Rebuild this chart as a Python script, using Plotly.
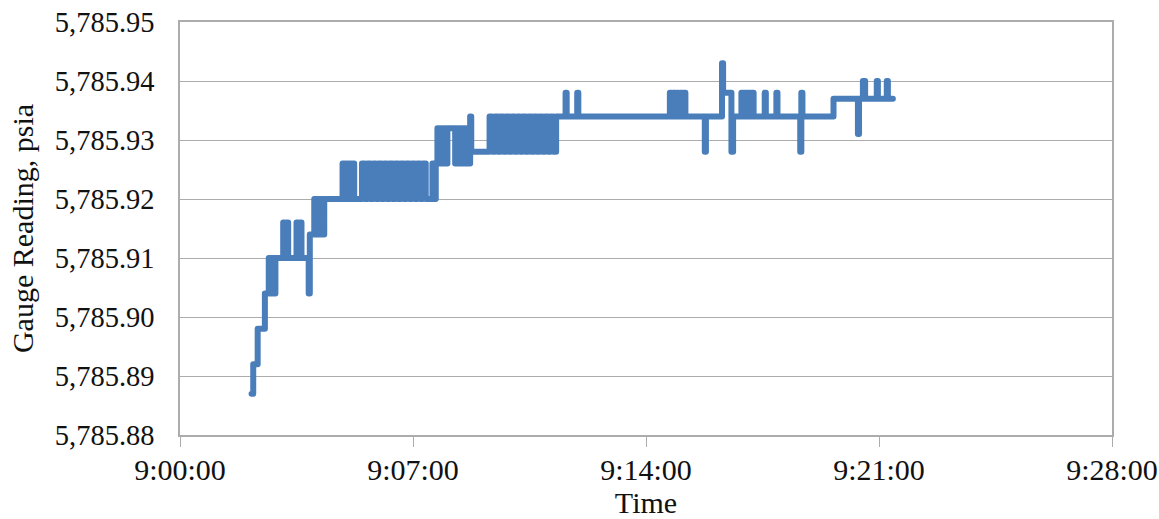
import pandas as pd
import plotly.graph_objects as go

# Gauge readings (psia) as change points: (second within the minute, new reading).
# The reading holds its value until the next change point.
m02 = [(9, 5785.887), (12, 5785.892), (20, 5785.898), (33, 5785.904), (40, 5785.910),
       (43, 5785.904), (46, 5785.910), (49, 5785.904), (52, 5785.910)]
m03 = [(6, 5785.916), (9, 5785.910), (12, 5785.916), (15, 5785.910), (30, 5785.916),
       (33, 5785.910), (36, 5785.916), (39, 5785.910), (52, 5785.904), (54, 5785.914)]
m04 = [(2, 5785.920), (5, 5785.914), (8, 5785.920), (11, 5785.914), (14, 5785.920),
       (17, 5785.914), (20, 5785.920), (53, 5785.926), (56, 5785.920), (59, 5785.926)]
m05 = [(2, 5785.920), (5, 5785.926), (8, 5785.920), (11, 5785.926), (14, 5785.920),
       (28, 5785.926), (33, 5785.920), (38, 5785.926), (43, 5785.920), (48, 5785.926),
       (53, 5785.920), (58, 5785.926)]
m06 = [(3, 5785.920), (8, 5785.926), (13, 5785.920), (18, 5785.926), (23, 5785.920),
       (28, 5785.926), (33, 5785.920), (38, 5785.926), (43, 5785.920), (48, 5785.926),
       (53, 5785.920), (58, 5785.926)]
m07 = [(3, 5785.920), (8, 5785.926), (13, 5785.920), (18, 5785.926), (23, 5785.920),
       (35, 5785.926), (38, 5785.920), (41, 5785.926), (44, 5785.932), (47, 5785.926),
       (50, 5785.932), (53, 5785.926), (56, 5785.932), (59, 5785.926)]
m08 = [(2, 5785.932), (16, 5785.926), (19, 5785.932), (22, 5785.926), (25, 5785.932),
       (28, 5785.926), (31, 5785.932), (34, 5785.926), (37, 5785.932), (40, 5785.926),
       (43, 5785.934), (45, 5785.928)]
m09 = [(18, 5785.934), (23, 5785.928), (28, 5785.934), (33, 5785.928), (38, 5785.934),
       (43, 5785.928), (48, 5785.934), (53, 5785.928), (58, 5785.934)]
m10 = [(3, 5785.928), (8, 5785.934), (13, 5785.928), (18, 5785.934), (23, 5785.928),
       (28, 5785.934), (33, 5785.928), (38, 5785.934), (43, 5785.928), (48, 5785.934),
       (53, 5785.928), (58, 5785.934)]
m11 = [(3, 5785.928), (8, 5785.934), (13, 5785.928), (18, 5785.934), (35, 5785.938),
       (37, 5785.934), (56, 5785.938), (58, 5785.934)]
m14 = [(43, 5785.938), (46, 5785.934), (49, 5785.938), (52, 5785.934), (55, 5785.938),
       (58, 5785.934)]
m15 = [(2, 5785.938), (5, 5785.934), (8, 5785.938), (11, 5785.934), (46, 5785.928),
       (48, 5785.934)]
m16 = [(17, 5785.943), (19, 5785.938), (34, 5785.928), (37, 5785.934), (52, 5785.938),
       (55, 5785.934), (58, 5785.938)]
m17 = [(1, 5785.934), (4, 5785.938), (7, 5785.934), (10, 5785.938), (14, 5785.934),
       (34, 5785.938), (36, 5785.934), (55, 5785.938), (57, 5785.934)]
m18 = [(38, 5785.928), (40, 5785.938), (42, 5785.934)]
m19 = [(38, 5785.937)]
m20 = [(22, 5785.931), (24, 5785.937), (31, 5785.940), (35, 5785.937), (56, 5785.940),
       (58, 5785.937)]
m21 = [(14, 5785.940), (16, 5785.937), (25, 5785.937)]

minutes = [(2, m02), (3, m03), (4, m04), (5, m05), (6, m06), (7, m07), (8, m08),
           (9, m09), (10, m10), (11, m11), (14, m14), (15, m15), (16, m16),
           (17, m17), (18, m18), (19, m19), (20, m20), (21, m21)]

x_ticks = ["9:00:00", "9:07:00", "9:14:00", "9:21:00", "9:28:00"]
y_ticks = [5785.88, 5785.89, 5785.90, 5785.91, 5785.92, 5785.93, 5785.94, 5785.95]

day = "2000-01-01"
times, readings = [], []
for minute, changes in minutes:
    for sec, value in changes:
        times.append(pd.Timestamp(f"{day} 09:{minute:02d}:{sec:02d}"))
        readings.append(value)

tick_vals = [pd.Timestamp(f"{day} {t}") for t in x_ticks]

FONT = "Liberation Serif"
GRID = "rgb(172,172,172)"

fig = go.Figure(
    go.Scatter(
        x=times, y=readings, mode="lines",
        line=dict(color="#4a7ebb", width=6, shape="hv"),
        hoverinfo="skip",
    )
)

fig.update_layout(
    width=1159, height=519,
    margin=dict(l=180, r=47, t=22, b=84),
    paper_bgcolor="white", plot_bgcolor="white",
    showlegend=False,
    font=dict(family=FONT, size=28, color="#111111"),
)

fig.update_xaxes(
    range=[tick_vals[0], tick_vals[-1]],
    tickvals=tick_vals, ticktext=x_ticks,
    automargin=False, ticklabeloverflow="allow",
    showgrid=False, zeroline=False,
    showline=True, linecolor=GRID, linewidth=1.5, mirror=True,
    ticks="outside", ticklen=10, tickcolor=GRID, tickwidth=1.2,
    ticklabelstandoff=-3,
    title=dict(text="Time", standoff=8, font=dict(family=FONT, size=30)),
    tickfont=dict(family=FONT, size=30),
)

fig.update_yaxes(
    range=[y_ticks[0], y_ticks[-1]],
    tickvals=y_ticks, tickformat=",.2f",
    automargin=False,
    showgrid=True, gridcolor=GRID, gridwidth=1.2,
    zeroline=False,
    showline=True, linecolor=GRID, linewidth=1.5, mirror=True,
    ticks="", ticklabelstandoff=18,
    title=dict(text="Gauge Reading, psia", standoff=12, font=dict(family=FONT, size=30)),
    tickfont=dict(family=FONT, size=28.5),
)

fig.write_html(
    "out.html",
    post_script="document.querySelectorAll('.scatterlayer path.js-line')"
                ".forEach(function(p){p.style.strokeLinejoin='round';p.style.strokeLinecap='round';});",
)
